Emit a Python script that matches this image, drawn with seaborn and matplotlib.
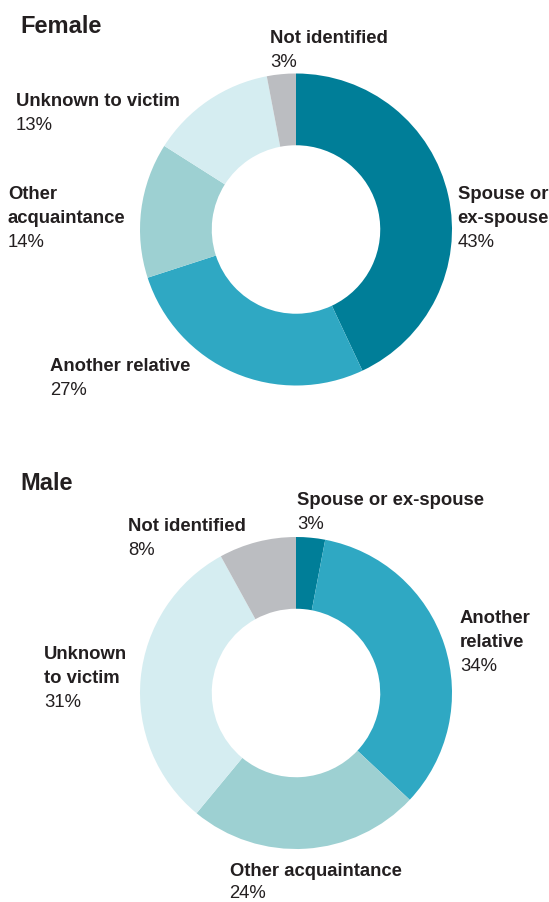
import matplotlib
matplotlib.use("Agg")
import matplotlib.pyplot as plt
import seaborn as sns

sns.set_theme(style="white")
plt.rcParams["font.family"] = ["Liberation Sans", "DejaVu Sans"]

# Relationship of perpetrator to victim, share of victims (%)
categories = ["Spouse or ex-spouse", "Another relative", "Other acquaintance",
              "Unknown to victim", "Not identified"]
female_pct = [43, 27, 14, 13, 3]
male_pct = [3, 34, 24, 31, 8]
panel_titles = ["Female", "Male"]

colors = ["#007e98", "#2fa8c3", "#9dd0d2", "#d5edf1", "#bbbdc1"]
TEXT = "#231f20"
FS = 13.3

W, H = 549, 902
fig = plt.figure(figsize=(W / 100, H / 100), dpi=100)
fig.patch.set_facecolor("white")


def donut(cx, cy, r, values):
    ax = fig.add_axes([(cx - r) / W, 1 - (cy + r) / H, 2 * r / W, 2 * r / H])
    ax.pie(values, colors=colors, startangle=90, counterclock=False, radius=1,
           wedgeprops=dict(width=0.46, linewidth=0))
    ax.set_xlim(-1, 1)
    ax.set_ylim(-1, 1)
    ax.set_aspect("equal")
    ax.axis("off")


def label(x, y, name_lines, value, step=24):
    for i, line in enumerate(name_lines):
        fig.text(x / W, 1 - (y + i * step) / H, line, fontsize=FS,
                 fontweight="bold", color=TEXT, va="baseline", ha="left")
    fig.text(x / W, 1 - (y + len(name_lines) * step) / H, f"{value}%",
             fontsize=FS, color=TEXT, va="baseline", ha="left")


# Female panel
fig.text(20 / W, 1 - 33 / H, panel_titles[0], fontsize=17, fontweight="bold",
         color=TEXT, va="baseline", ha="left")
donut(296, 229.5, 156, female_pct)
label(457.5, 199, ["Spouse or", "ex-spouse"], female_pct[0])
label(50, 371, ["Another relative"], female_pct[1])
label(8, 199, ["Other", "acquaintance"], female_pct[2])
label(16, 106, ["Unknown to victim"], female_pct[3])
label(270, 43, ["Not identified"], female_pct[4])

# Male panel
fig.text(20 / W, 1 - 490 / H, panel_titles[1], fontsize=17, fontweight="bold",
         color=TEXT, va="baseline", ha="left")
donut(296, 693, 156, male_pct)
label(297, 505, ["Spouse or ex-spouse"], male_pct[0])
label(460, 623, ["Another", "relative"], male_pct[1])
label(229.5, 876, ["Other acquaintance"], male_pct[2], step=22.5)
label(44, 659, ["Unknown", "to victim"], male_pct[3])
label(128, 531, ["Not identified"], male_pct[4])

fig.savefig("out.png", dpi=100, facecolor="white")
